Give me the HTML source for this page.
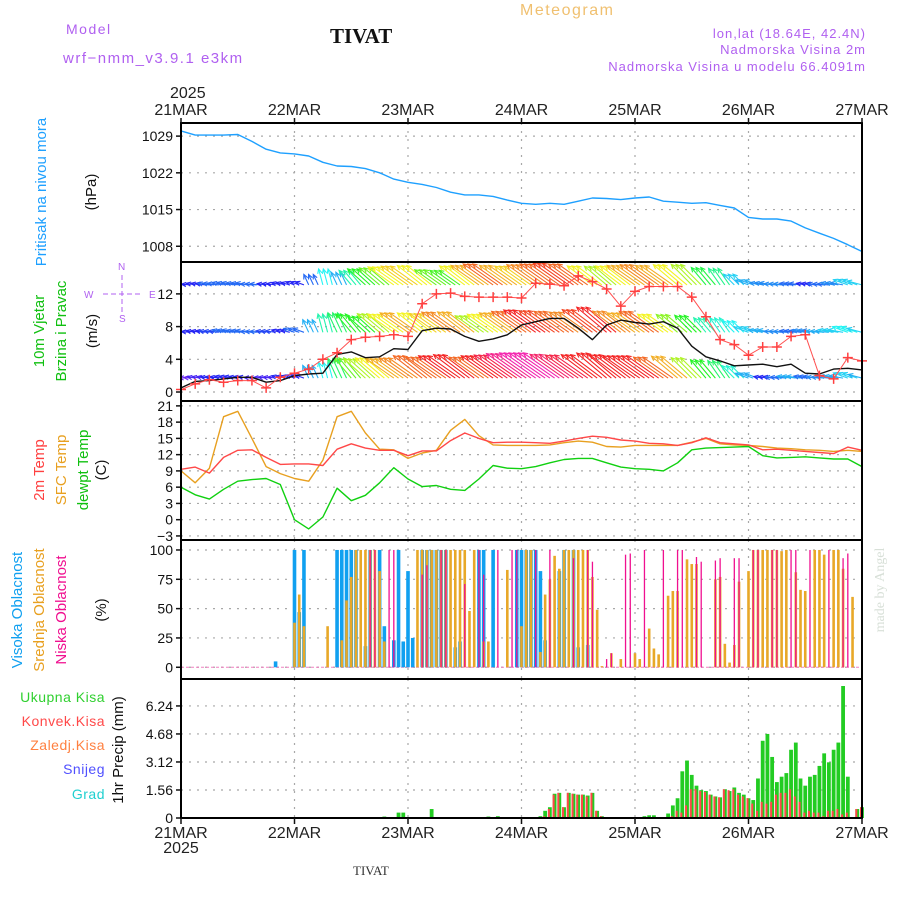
<!DOCTYPE html>
<html><head><meta charset="utf-8"><style>
html,body{margin:0;padding:0;background:#fff;}
svg text{font-family:"Liberation Sans",sans-serif;}
</style></head><body>
<svg id="chart" width="900" height="900" xmlns="http://www.w3.org/2000/svg">
<text x="66" y="34" font-size="14" fill="#b060f0" letter-spacing="1.5">Model</text>
<text x="63" y="63" font-size="15" fill="#b060f0" letter-spacing="1.5">wrf−nmm_v3.9.1 e3km</text>
<text x="330" y="43" font-size="21" font-weight="bold" font-family="Liberation Serif" fill="#111" style="font-family:'Liberation Serif',serif">TIVAT</text>
<text x="520" y="15" font-size="16" fill="#f0c070" letter-spacing="1.5">Meteogram</text>
<text x="866" y="38" font-size="13" fill="#b060f0" text-anchor="end" letter-spacing="1">lon,lat (18.64E, 42.4N)</text>
<text x="866" y="54" font-size="13" fill="#b060f0" text-anchor="end" letter-spacing="1">Nadmorska Visina 2m</text>
<text x="866" y="71" font-size="13" fill="#b060f0" text-anchor="end" letter-spacing="1">Nadmorska Visina u modelu 66.4091m</text>
<text x="170" y="98" font-size="16" fill="#222">2025</text>
<text x="181" y="853" font-size="16" fill="#222" text-anchor="middle">2025</text>
<text x="353" y="875" font-size="13" fill="#333" style="font-family:'Liberation Serif',serif">TIVAT</text>
<text transform="translate(884,590) rotate(-90)" font-size="14" fill="#d8e0d8" text-anchor="middle" style="font-family:'Liberation Serif',serif">made by Angel</text>

<text transform="translate(46,192) rotate(-90)" font-size="15" fill="#1ea0ff" text-anchor="middle">Pritisak na nivou mora</text>
<text transform="translate(96,192) rotate(-90)" font-size="15" fill="#111" text-anchor="middle">(hPa)</text>

<text transform="translate(44,331) rotate(-90)" font-size="15" fill="#10c010" text-anchor="middle">10m Vjetar</text>
<text transform="translate(66,331) rotate(-90)" font-size="15" fill="#10c010" text-anchor="middle">Brzina i Pravac</text>
<text transform="translate(97,331) rotate(-90)" font-size="15" fill="#111" text-anchor="middle">(m/s)</text>
<g fill="#b060f0" stroke="#b060f0" font-size="10">
<text x="84" y="298" stroke="none">W</text><text x="149" y="298" stroke="none">E</text>
<text x="118" y="270" stroke="none">N</text><text x="119" y="322" stroke="none">S</text>
<line x1="103" y1="294" x2="143" y2="294" stroke-dasharray="5,3"/><line x1="122" y1="275" x2="122" y2="313" stroke-dasharray="5,3"/>
</g>

<text transform="translate(44,470) rotate(-90)" font-size="15" fill="#ff4040" text-anchor="middle">2m Temp</text>
<text transform="translate(66,470) rotate(-90)" font-size="15" fill="#e8a020" text-anchor="middle">SFC Temp</text>
<text transform="translate(88,470) rotate(-90)" font-size="15" fill="#10c010" text-anchor="middle">dewpt Temp</text>
<text transform="translate(106,470) rotate(-90)" font-size="15" fill="#111" text-anchor="middle">(C)</text>

<text transform="translate(22,610) rotate(-90)" font-size="15" fill="#10a0f0" text-anchor="middle">Visoka Oblacnost</text>
<text transform="translate(44,610) rotate(-90)" font-size="15" fill="#e8a020" text-anchor="middle">Srednja Oblacnost</text>
<text transform="translate(66,610) rotate(-90)" font-size="15" fill="#f01090" text-anchor="middle">Niska Oblacnost</text>
<text transform="translate(106,610) rotate(-90)" font-size="15" fill="#111" text-anchor="middle">(%)</text>

<g font-size="14" text-anchor="end" letter-spacing="0.5">
<text x="105" y="702" fill="#30d030">Ukupna Kisa</text>
<text x="105" y="726" fill="#ff4848">Konvek.Kisa</text>
<text x="105" y="750" fill="#ff8040">Zaledj.Kisa</text>
<text x="105" y="774" fill="#5050ff">Snijeg</text>
<text x="105" y="799" fill="#20d0d0">Grad</text>
</g>
<text transform="translate(123,750) rotate(-90)" font-size="15" fill="#111" text-anchor="middle">1hr Precip (mm)</text>
</svg>
<script>
// time axis: hours since 21MAR 00
const dayLabels = ["21MAR","22MAR","23MAR","24MAR","25MAR","26MAR","27MAR"];
const lineHours = [0,3,6,9,12,15,18,21,24,27,30,33,36,39,42,45,48,51,54,57,60,63,66,69,72,75,78,81,84,87,90,93,96,99,102,105,108,111,114,117,120,123,126,129,132,135,138,141,144];
const pressureVals = [1030,1029.2,1029.2,1029.2,1029.3,1028,1026.5,1025.8,1025.6,1025.2,1024,1023.3,1023.2,1022.8,1022,1020.8,1020.2,1019.8,1019.2,1018.3,1017.8,1017.8,1017.5,1016.8,1016.2,1016,1016.2,1016,1016.6,1017.2,1017.1,1016.9,1017.2,1017.4,1016.6,1016.4,1016.2,1016.3,1015.8,1015.3,1013.5,1013.2,1013.2,1012.8,1011.5,1010.5,1009.5,1008.3,1007];
const temp2mVals = [9.3,9.7,8.6,11.5,12.8,12.9,11.5,10.2,10.3,10.3,10.0,13.0,14.0,13.2,12.8,12.8,11.8,12.7,12.7,14.6,16.0,15.0,14.2,14.3,14.3,14.2,14.1,14.5,15.0,15.4,15.2,14.7,14.5,14.1,14.0,13.7,14.2,15.1,14.2,14.0,13.8,12.9,13.0,12.8,12.6,12.4,12.2,13.4,12.8];
const sfcTempVals = [9,6.8,9.5,19,20,15,9.8,8.5,7.6,7.1,11,19,20,16,13,12.9,11.3,12.3,12.8,16.5,18.5,15.5,13.8,13.7,13.7,13.7,13.8,14.2,14.5,14.3,13.5,13.4,13.7,13.7,13.7,13.7,14.3,15.0,14.0,13.8,13.7,13.5,13.2,13.1,12.9,12.8,12.6,12.8,12.6];
const dewptVals = [6,4.6,3.8,5.6,7.1,7.4,7.6,6.5,0,-1.7,0.5,5.8,3.5,4.5,6.8,9.6,7.5,6.1,6.3,5.6,5.4,7.5,10.0,9.5,9.4,9.8,10.5,11.1,11.3,11.3,10.5,9.7,9.4,9.3,9.0,10.5,12.9,13.2,13.3,13.4,13.5,11.8,11.4,11.5,11.6,11.4,11.2,11.2,9.8];
const windSpeedVals = [0.5,1.3,1.4,1.6,1.8,1.8,1.2,1.4,2.0,2.2,2.3,4.6,4.9,4.2,4.3,5.3,5.2,7.5,7.8,7.7,6.8,6.2,6.5,7.0,8.2,8.6,9.0,9.0,7.8,6.4,8.2,8.8,8.5,8.3,8.6,7.8,5.6,4.3,3.8,3.2,3.3,3.4,3.1,3.4,2.3,2.2,2.8,2.9,2.7];
const gustVals = [0.3,1.0,1.5,1.2,1.4,1.4,0.5,1.8,2.3,2.8,4.0,4.8,6.4,6.7,6.8,7.0,6.8,10.8,12.0,12.1,11.7,11.6,11.6,11.6,11.5,13.3,13.2,13.0,14.2,13.5,12.6,10.5,12.3,12.9,12.9,12.9,11.6,9.2,6.4,5.8,4.5,5.5,5.5,6.8,7.0,2.0,1.6,4.2,3.8];
// wind vectors at three levels (speed m/s) and arrow direction (deg, 0=east,90=north)
const windTopVals = [2,2,3,3,3,3,2,2,2,3,5,4,6,8,9,11,11.5,11,9,8.5,11,12,13,12,11.5,12.5,13,13.5,13,11,10,11,12,12.5,12,11,10,7.5,6.5,4.5,4,3.5,3.5,3,2,3,3.5,4.5,4.5];
const windMidVals = [2,2,2.5,3,3,3,2.5,2,3,4,6,7,8,8,10,11,12,11,11.5,12.5,12,10,11,12,13,14,13.5,13,12.5,13.5,14,12.5,12,13,11,9.5,8,6,5.5,5,4.5,4,3.5,3,3.5,4,4.5,5,4.5];
const windLowVals = [1,1.5,2,2,2,1.5,1.5,2,2,4,5,7,9,10,11,12,12.5,13,13,14,14,13,14,14.5,15.5,16,16,15,14.5,14,14,14,14,14,13,12,10,8,7,5.5,4,2,3,4,3,3.5,4,4.5,4];
const windDirVals = [175,170,172,168,170,175,172,165,160,115,105,115,130,138,140,145,145,142,145,145,143,145,145,145,145,145,145,145,145,143,140,143,145,145,145,140,135,130,125,135,160,170,175,172,170,175,170,160,165];
// cloud cover (%) hourly, sparse
const highHours = [20,24,25,26,33,34,35,36,37,39,40,42,43,45,46,47,48,49,51,52,53,54,55,56,58,59,63,64,66,71,72,73,74,75,76,77,80,81,83,84,86];
const highVals = [5,100,47,100,100,100,100,100,100,18,100,100,35,23,100,22,82,25,100,100,100,100,100,100,17,22,100,100,100,100,100,100,100,100,82,23,82,100,100,17,19];
const midHours = [24,25,26,31,34,35,36,37,38,39,40,41,42,43,50,51,52,53,54,55,56,57,58,59,60,61,62,64,65,68,69,72,73,74,76,77,78,79,80,81,82,83,84,85,86,87,88,89,91,93,96,97,99,100,101,103,104,105,107,108,109,113,114,115,116,117,118,120,121,122,123,124,125,126,127,128,130,131,132,134,135,136,138,139,140,142];
const midVals = [38,62,35,35,23,57,77,100,100,100,100,100,82,22,100,100,100,100,100,100,100,100,100,100,100,48,100,22,22,0,83,35,100,100,13,62,75,95,84,100,100,100,100,100,100,77,49,1,12,7,12,7,33,16,11,61,65,65,92,88,88,75,77,20,4,19,73,82,100,100,100,100,100,100,99,100,81,66,65,100,100,96,100,100,84,60];
const lowHours = [40,41,44,45,51,52,55,56,60,63,64,67,70,71,75,78,83,86,87,90,91,94,95,98,102,105,106,109,110,113,114,117,118,121,122,125,126,129,130,133,137,140,141];
const lowVals = [100,100,100,100,79,87,100,100,71,100,79,100,100,100,100,100,93,100,90,7,12,96,97,100,100,100,100,94,90,91,93,93,93,100,100,100,100,100,100,100,100,93,97];
// precipitation (mm/h), sparse
const precipHours = [43,46,47,53,65,67,70,76,77,78,79,80,81,82,83,84,85,86,87,88,89,97,98,99,100,101,102,103,104,105,106,107,108,109,110,111,112,113,114,115,116,117,118,119,120,121,122,123,124,125,126,127,128,129,130,131,132,133,134,135,136,137,138,139,140,141,142,143,144];
const totalPrecipVals = [0.08,0.3,0.3,0.5,0.08,0.1,0.05,0.1,0.4,0.6,1.35,1.4,0.6,1.4,1.35,1.3,1.3,1.25,1.4,0.4,0.1,0.05,0.1,0.15,0.15,0.05,0.05,0.25,0.7,1.1,2.6,3.2,2.4,1.8,1.55,1.5,1.3,1.2,1.15,1.6,1.5,1.7,1.4,1.3,1.1,1.0,2.2,4.3,4.68,3.4,2.0,2.3,2.5,3.8,4.2,2.2,1.8,2.3,2.4,2.9,3.6,3.1,3.8,4.2,7.35,2.3,0.05,0.5,0.6];
const convPrecipVals = [0,0,0,0,0,0,0,0,0.1,0.5,1.3,1.4,0.6,1.4,1.35,1.3,1.3,1.2,1.4,0.4,0.1,0,0,0,0,0,0,0,0.1,0.4,0.3,0.7,1.6,1.6,1.5,1.45,1.3,1.2,1.15,1.6,1.55,1.6,1.3,1.2,1.1,0.8,0.4,0.9,0.8,0.9,1.3,1.4,1.4,1.6,1.2,0.9,0.3,0.4,0.3,0.3,0.1,0.4,0.4,0.5,0.2,0.3,0,0.5,0.6];
const pressureTicks = [1008,1015,1022,1029];
const windTicks = [0,4,8,12];
const tempTicks = [-3,0,3,6,9,12,15,18,21];
const cloudTicks = [0,25,50,75,100];
const precipTicks = [0,1.56,3.12,4.68,6.24];

const NS = "http://www.w3.org/2000/svg";
const svg = document.getElementById("chart");
const X0 = 181, X1 = 862, HMAX = 144;
const xS = h => X0 + h * (X1 - X0) / HMAX;
function mk(tag, attrs, parent) {
  const e = document.createElementNS(NS, tag);
  for (const k in attrs) e.setAttribute(k, attrs[k]);
  (parent || svg).appendChild(e);
  return e;
}
const panels = [
  {name:"pressure", top:123, bot:262, vmin:1005.0, vmax:1031.5, ticks:pressureTicks, fmt:v=>String(v)},
  {name:"wind", top:262, bot:401, vmin:-1.1, vmax:15.9, ticks:windTicks, fmt:v=>String(v)},
  {name:"temp", top:401, bot:540, vmin:-3.75, vmax:21.9, ticks:tempTicks, fmt:v=>(v<0?"−"+(-v):String(v))},
  {name:"cloud", top:540, bot:679, vmin:-10, vmax:108.5, ticks:cloudTicks, fmt:v=>String(v)},
  {name:"precip", top:679, bot:818, vmin:0, vmax:7.74, ticks:precipTicks, fmt:v=>(v===0?"0":v.toFixed(2))}
];
panels.forEach(p => { p.y = v => p.bot - (v - p.vmin) * (p.bot - p.top) / (p.vmax - p.vmin); });
const [pP, pW, pT, pC, pR] = panels;

// grids & axes
panels.forEach(p => {
  const g = mk("g", {});
  
  
  for (let d = 1; d < 6; d++) {
    const x = xS(d * 24);
    mk("line", {x1:x, x2:x, y1:p.top, y2:p.bot, stroke:"#a8a8a8", "stroke-width":1.2, "stroke-dasharray":"2,6"}, g);
  }
  p.ticks.forEach(t => {
    const y = p.y(t);
    mk("line", {x1:X0, x2:X1, y1:y, y2:y, stroke:"#a8a8a8", "stroke-width":1.2, "stroke-dasharray":"2,6"}, g);
    mk("line", {x1:X0-5, x2:X0, y1:y, y2:y, stroke:"#111", "stroke-width":1.5}, g);
    const tx = mk("text", {x:X0-8, y:y+5, "font-size":14, "text-anchor":"end", fill:"#111"}, g);
    tx.textContent = p.fmt(t);
    
    
  });
});

function polyline(p, vals, color, name) {
  const pts = lineHours.map((h, i) => xS(h).toFixed(1) + "," + p.y(vals[i]).toFixed(1)).join(" ");
  const e = mk("polyline", {points:pts, fill:"none", stroke:color, "stroke-width":1.4, "stroke-linejoin":"round"});
  
  
  return e;
}
function clipFor(p, id) {
  const cp = mk("clipPath", {id:id});
  mk("rect", {x:X0, y:p.top, width:X1-X0, height:p.bot-p.top}, cp);
  return "url(#" + id + ")";
}

// pressure
polyline(pP, pressureVals, "#1ea0ff", "pressure-line");

// wind arrows
const wg = mk("g", {"clip-path": clipFor(pW, "clipW")});


const hue = s => ((280 - s * 20) % 360 + 360) % 360;
[[windLowVals, 1.7], [windMidVals, 7.3], [windTopVals, 13.1]].forEach(([vals, base]) => {
  const by = pW.y(base);
  lineHours.forEach((h, i) => {
    for (let k = 0; k < 3; k++) {
      if (h + k > HMAX) continue;
      const s = vals[i], a = windDirVals[i] * Math.PI / 180, L = s * 2.5 + 4;
      const x1 = xS(h + k), x2 = x1 + L * Math.cos(a), y2 = by - L * Math.sin(a);
      const col = "hsl(" + hue(s) + ",90%,55%)";
      mk("line", {x1:x1, y1:by, x2:x2, y2:y2, stroke:col, "stroke-width":1.1}, wg);
      const b1 = a + 2.7, b2 = a - 2.7;
      mk("polyline", {points:(x2+5*Math.cos(b1))+","+(y2-5*Math.sin(b1))+" "+x2+","+y2+" "+(x2+5*Math.cos(b2))+","+(y2-5*Math.sin(b2)), fill:"none", stroke:col, "stroke-width":1.1}, wg);
    }
  });
});
polyline(pW, windSpeedVals, "#111", "wind-speed-line");
const gl = polyline(pW, gustVals, "#ff5050", "wind-gust-line");
gl.setAttribute("stroke-width", 1);
lineHours.forEach((h, i) => {
  const x = xS(h), y = pW.y(gustVals[i]);
  const c = mk("path", {d:`M${x-5},${y}H${x+5}M${x},${y-5}V${y+5}`, stroke:"#ff4040", "stroke-width":1.5});
  
  
});

// temperature
polyline(pT, sfcTempVals, "#e8a020", "sfc-temp-line");
polyline(pT, temp2mVals, "#ff4848", "temp-2m-line");
polyline(pT, dewptVals, "#10d010", "dewpt-line");

// clouds
mk("line", {x1:X0, x2:X1, y1:pC.y(0), y2:pC.y(0), stroke:"#f080c0", "stroke-width":1, "stroke-dasharray":"3,2"});
function bars(p, hours, vals, color, w, name, dx) {
  hours.forEach((h, i) => {
    const y0 = p.y(0), y1 = p.y(vals[i]);
    const r = mk("rect", {x:xS(h) - w/2 + (dx||0), y:Math.min(y0,y1), width:w, height:Math.abs(y0-y1), fill:color});
    
    
  });
}
bars(pC, highHours, highVals, "#10a0f0", 3.6, "high-cloud-bar");
bars(pC, midHours, midVals, "#e8a828", 2.6, "mid-cloud-bar");
bars(pC, lowHours, lowVals, "#f01090", 1.3, "low-cloud-bar");

// precipitation
bars(pR, precipHours, totalPrecipVals, "#22cc22", 3.8, "total-precip-bar");
bars(pR, precipHours, convPrecipVals, "#ff4848", 2, "convective-precip-bar", -1);

// frames
panels.forEach(p => {
  const r = mk("rect", {x:X0, y:p.top, width:X1-X0, height:p.bot-p.top, fill:"none", stroke:"#000", "stroke-width":2});
  
  
});
// day labels
dayLabels.forEach((d, i) => {
  const x = xS(i * 24);
  mk("line", {x1:x, x2:x, y1:118, y2:123, stroke:"#111", "stroke-width":1.5});
  mk("line", {x1:x, x2:x, y1:818, y2:824, stroke:"#111", "stroke-width":1.5});
  const t1 = mk("text", {x:x, y:115, "font-size":16, "text-anchor":"middle", fill:"#222"});
  t1.textContent = d;
  
  
  const t2 = mk("text", {x:x, y:838, "font-size":16, "text-anchor":"middle", fill:"#222"});
  t2.textContent = d;
  
  
});
</script>
</body></html>
